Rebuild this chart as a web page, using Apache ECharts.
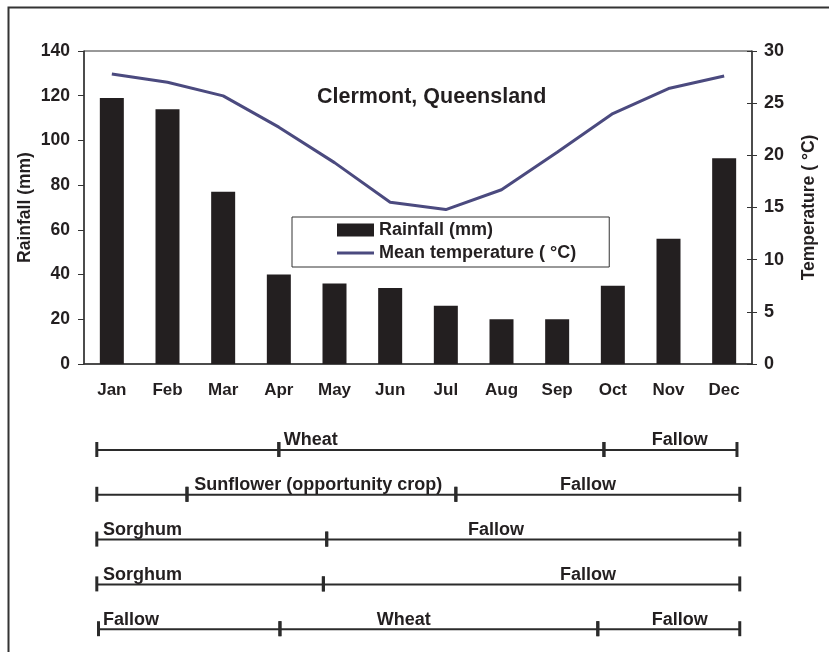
<!DOCTYPE html>
<html>
<head>
<meta charset="utf-8">
<script src="https://cdn.jsdelivr.net/npm/echarts@6/dist/echarts.min.js"></script>
<style>
  html, body { margin: 0; padding: 0; background: #fff; }
  #chart { width: 829px; height: 652px; }
</style>
</head>
<body>
<div id="chart"></div>
<script>
// Monthly climate for Clermont, Queensland
const months = ['Jan', 'Feb', 'Mar', 'Apr', 'May', 'Jun', 'Jul', 'Aug', 'Sep', 'Oct', 'Nov', 'Dec'];
const rainfall = [119, 114, 77, 40, 36, 34, 26, 20, 20, 35, 56, 92];
const meanTemp = [27.8, 27.0, 25.7, 22.7, 19.3, 15.5, 14.8, 16.7, 20.3, 24.0, 26.4, 27.6];
const rainTicks = { min: 0, max: 140, interval: 20 };
const tempTicks = { min: 0, max: 30, interval: 5 };

// Cropping calendars: one row per rotation, spans in months from 1 January
const rotationRows = [1, 2, 3, 4, 5];
const cropSpans = [
  // [row, from, to, label, labelStart]
  [1, 0.23, 3.50, 'Wheat', 3.59],
  [1, 3.50, 9.34, '', 0],
  [1, 9.34, 11.73, 'Fallow', 10.20],
  [2, 0.23, 1.85, '', 0],
  [2, 1.85, 6.68, 'Sunflower (opportunity crop)', 1.98],
  [2, 6.68, 11.78, 'Fallow', 8.55],
  [3, 0.23, 4.36, 'Sorghum', 0.34],
  [3, 4.36, 11.78, 'Fallow', 6.90],
  [4, 0.23, 4.30, 'Sorghum', 0.34],
  [4, 4.30, 11.78, 'Fallow', 8.55],
  [5, 0.26, 3.52, 'Fallow', 0.34],
  [5, 3.52, 9.23, 'Wheat', 5.26],
  [5, 9.23, 11.78, 'Fallow', 10.20]
];

const ink = '#231f20';
const tempColor = '#4b4a7f';
const font = 'Liberation Sans, Arial, Helvetica, sans-serif';
const boldText = (size) => ({ color: ink, fontFamily: font, fontWeight: 'bold', fontSize: size });

const chart = echarts.init(document.getElementById('chart'), null, { renderer: 'canvas' });

function renderSpan(params, api) {
  const row = api.value(0);
  const p0 = api.coord([api.value(1), row]);
  const p1 = api.coord([api.value(2), row]);
  const label = cropSpans[params.dataIndex][3];
  const labelAt = api.coord([cropSpans[params.dataIndex][4], row]);
  const children = [
    { type: 'line', shape: { x1: p0[0], y1: p0[1], x2: p1[0], y2: p1[1] },
      style: { stroke: '#2b2b2b', lineWidth: 2 } },
    { type: 'rect', shape: { x: p0[0] - 1.5, y: p0[1] - 8, width: 3, height: 15 },
      style: { fill: '#2b2b2b' } },
    { type: 'rect', shape: { x: p1[0] - 1.5, y: p1[1] - 8, width: 3, height: 15 },
      style: { fill: '#2b2b2b' } }
  ];
  if (label) {
    children.push({
      type: 'text',
      style: {
        text: label, x: labelAt[0], y: p0[1] - 0.5,
        align: 'left', verticalAlign: 'bottom',
        fill: ink, font: 'bold 18px ' + font
      }
    });
  }
  return { type: 'group', children };
}

chart.setOption({
  animation: false,
  backgroundColor: '#fff',
  graphic: [{
    type: 'rect', left: 6, top: 5, z: -1,
    shape: { width: 840, height: 670 },
    style: { fill: 'none', stroke: '#333', lineWidth: 2 }
  }],
  title: {
    text: 'Clermont, Queensland',
    left: 317, top: 86, padding: 0,
    textStyle: boldText(21.5)
  },
  legend: {
    orient: 'vertical',
    left: 292, top: 217,
    padding: [4, 33, 5, 45],
    itemGap: 5,
    itemWidth: 37, itemHeight: 13,
    borderColor: '#333', borderWidth: 1,
    textStyle: boldText(18),
    data: [
      { name: 'Rainfall (mm)', icon: 'rect' },
      { name: 'Mean temperature ( °C)', icon: 'path://M0,0 H37 V3 H0 Z',
        itemStyle: { color: tempColor } }
    ]
  },
  grid: [
    { left: 84, top: 51, width: 668, height: 313, show: true, borderColor: '#333', borderWidth: 1 },
    { left: 84, top: 427.6, width: 668, height: 224 }
  ],
  xAxis: [
    {
      type: 'category', gridIndex: 0, data: months, position: 'bottom',
      axisLine: { lineStyle: { color: '#333', width: 1.5 } },
      axisTick: { length: 5, lineStyle: { color: '#333' } },
      axisLabel: Object.assign({ margin: 18 }, boldText(17))
    },
    {
      type: 'category', gridIndex: 0, data: months, position: 'bottom',
      axisLine: { show: false },
      axisTick: { inside: true, length: 5, lineStyle: { color: '#333' } },
      axisLabel: { show: false }
    },
    { type: 'value', gridIndex: 1, min: 0, max: 12, show: false }
  ],
  yAxis: [
    {
      type: 'value', gridIndex: 0, position: 'left',
      min: rainTicks.min, max: rainTicks.max, interval: rainTicks.interval,
      name: 'Rainfall (mm)', nameLocation: 'middle', nameRotate: 90, nameGap: 50,
      nameMoveOverlap: false,
      nameTextStyle: boldText(17.5),
      splitLine: { show: false },
      axisLine: { show: true, lineStyle: { color: '#333', width: 1.5 } },
      axisTick: { show: true, length: 6, lineStyle: { color: '#333' } },
      axisLabel: Object.assign({ margin: 14 }, boldText(17.5))
    },
    {
      type: 'value', gridIndex: 0, position: 'right',
      min: tempTicks.min, max: tempTicks.max, interval: tempTicks.interval,
      name: 'Temperature ( °C)', nameLocation: 'middle', nameRotate: 90, nameGap: 48,
      nameMoveOverlap: false,
      nameTextStyle: boldText(17.5),
      splitLine: { show: false },
      axisLine: { show: true, lineStyle: { color: '#333', width: 1.5 } },
      axisTick: { show: true, length: 5, lineStyle: { color: '#333' } },
      axisLabel: Object.assign({ margin: 12 }, boldText(18))
    },
    {
      type: 'value', gridIndex: 0, position: 'right',
      min: tempTicks.min, max: tempTicks.max, interval: tempTicks.interval,
      splitLine: { show: false },
      axisLine: { show: false },
      axisTick: { show: true, inside: true, length: 5, lineStyle: { color: '#333' } },
      axisLabel: { show: false }
    },
    { type: 'value', gridIndex: 1, min: 0.5, max: 5.5, inverse: true, show: false,
      data: rotationRows }
  ],
  series: [
    {
      name: 'Rainfall (mm)', type: 'bar', xAxisIndex: 0, yAxisIndex: 0,
      data: rainfall, barWidth: 24,
      itemStyle: { color: ink }
    },
    {
      name: 'Mean temperature ( °C)', type: 'line', xAxisIndex: 0, yAxisIndex: 1,
      data: meanTemp, showSymbol: false, symbol: 'none',
      lineStyle: { color: tempColor, width: 3 },
      itemStyle: { color: tempColor }
    },
    {
      type: 'custom', xAxisIndex: 2, yAxisIndex: 3,
      renderItem: renderSpan,
      data: cropSpans.map(s => [s[0], s[1], s[2]]),
      silent: true
    }
  ]
});
</script>
</body>
</html>
